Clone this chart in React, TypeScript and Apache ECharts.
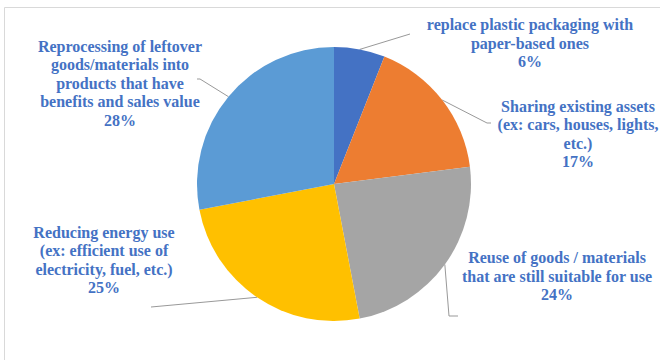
import React, { useEffect, useRef } from "react";
import * as echarts from "echarts";

const categories = [
  "replace plastic packaging with\npaper-based ones",
  "Sharing existing assets\n(ex: cars, houses, lights,\netc.)",
  "Reuse of goods / materials\nthat are still suitable for use",
  "Reducing energy use\n(ex: efficient use of\nelectricity, fuel, etc.)",
  "Reprocessing of leftover\ngoods/materials into\nproducts that have\nbenefits and sales value",
];
const values = [6, 17, 24, 25, 28];
const colors = ["#4472C4", "#ED7D31", "#A5A5A5", "#FFC000", "#5B9BD5"];
// label centres (layout only)
const labelPos = [
  [530, 43],
  [578, 134],
  [557, 276],
  [104, 260],
  [120, 83],
];
// leader line bends/ends after the slice anchor (layout only)
const leaderTail = [
  [[410, 34]],
  [[487, 123], [491, 123]],
  [[449, 316], [458, 316]],
  [[151, 307]],
  [[200, 79], [197, 79]],
];

export default function App() {
  const ref = useRef<HTMLDivElement>(null);
  useEffect(() => {
    const chart = echarts.init(ref.current!, null, { renderer: "svg" });
    chart.setOption({
      animation: false,
      backgroundColor: "#ffffff",
      graphic: [
        {
          type: "rect",
          shape: { x: 4.5, y: 7.5, width: 700, height: 400 },
          style: { fill: "none", stroke: "#d9d9d9", lineWidth: 1 },
          silent: true,
        },
      ],
      series: [
        {
          type: "pie",
          center: [334, 184],
          radius: 137,
          startAngle: 90,
          clockwise: true,
          avoidLabelOverlap: false,
          data: categories.map((name, i) => ({
            name,
            value: values[i],
            itemStyle: { color: colors[i] },
          })),
          label: {
            show: true,
            formatter: "{b}\n{d}%",
            fontFamily: "'Liberation Serif', 'Times New Roman', serif",
            fontWeight: "bold",
            fontSize: 16,
            lineHeight: 18.5,
            color: "#4472C4",
            align: "center",
          },
          labelLine: {
            show: true,
            length: 20,
            length2: 5,
            lineStyle: { color: "#999999", width: 1 },
          },
          labelLayout: (params: any) => {
            const i = params.dataIndex;
            const p = labelPos[i];
            const start = params.labelLinePoints ? params.labelLinePoints[0] : null;
            const out: any = { x: p[0], y: p[1], align: "center", verticalAlign: "middle" };
            if (start) out.labelLinePoints = [start, ...leaderTail[i]];
            return out;
          },
        },
      ],
    });
    return () => chart.dispose();
  }, []);
  return (
    <div
      ref={ref}
      style={{ position: "absolute", left: 0, top: 0, width: 660, height: 360 }}
    />
  );
}
